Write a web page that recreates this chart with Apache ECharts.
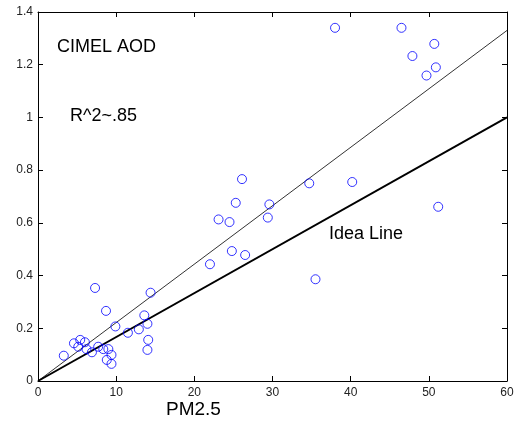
<!DOCTYPE html>
<html>
<head>
<meta charset="utf-8">
<script src="https://cdn.jsdelivr.net/npm/echarts@6/dist/echarts.min.js"></script>
<style>
  html, body { margin: 0; padding: 0; background: #fff; }
  #chart { width: 517px; height: 428px; }
</style>
</head>
<body>
<div id="chart"></div>
<script>
// PM2.5 values (x) and CIMEL AOD values (y)
const pm25 = [3.3, 4.6, 5.4, 6.0, 5.15, 6.2, 6.9, 7.7, 8.35, 9.0, 8.8, 9.4, 9.4,
  7.3, 14.4, 8.7, 13.6, 9.9, 14.0, 11.5, 12.9, 14.1, 14.0,
  22.0, 24.8, 26.5, 23.1, 24.5, 29.4, 25.3, 29.6, 26.1, 34.7, 40.2, 35.5, 51.2,
  38.0, 46.5, 50.7, 47.9, 50.9, 49.7]
const aod = [0.096, 0.143, 0.156, 0.147, 0.13, 0.121, 0.109, 0.13, 0.121, 0.121, 0.08, 0.099, 0.065,
  0.353, 0.335, 0.266, 0.249, 0.207, 0.217, 0.183, 0.196, 0.156, 0.118,
  0.443, 0.493, 0.478, 0.613, 0.603, 0.62, 0.676, 0.67, 0.766, 0.75, 0.755, 0.386, 0.661,
  1.34, 1.34, 1.279, 1.233, 1.19, 1.159]

const fitLine = [[0, 0], [60, 1.33]]
const idealLine = [[0, 0], [60, 1.0]]

const xTicks = { min: 0, max: 60, interval: 10 }
const yTicks = { min: 0, max: 1.4, interval: 0.2 }

const chart = echarts.init(document.getElementById('chart'))

const axisLine = { show: true, onZero: false, lineStyle: { color: '#000', width: 1 } }
const axisTick = { show: true, inside: true, length: 5, lineStyle: { color: '#000' } }
const labelStyle = { color: '#222', fontSize: 12, fontFamily: 'Liberation Sans, Arial, sans-serif' }

chart.setOption({
    animation: false,
    grid: {
        left: 38,
        top: 12,
        right: 10,
        bottom: 47
    },
    xAxis: [{
        type: 'value',
        min: xTicks.min,
        max: xTicks.max,
        interval: xTicks.interval,
        position: 'bottom',
        axisLine: axisLine,
        axisTick: axisTick,
        splitLine: { show: false },
        axisLabel: Object.assign({ margin: 6 }, labelStyle)
    }, {
        type: 'value',
        min: xTicks.min,
        max: xTicks.max,
        interval: xTicks.interval,
        position: 'top',
        axisLine: axisLine,
        axisTick: axisTick,
        splitLine: { show: false },
        axisLabel: { show: false }
    }],
    yAxis: [{
        type: 'value',
        min: yTicks.min,
        max: yTicks.max,
        interval: yTicks.interval,
        position: 'left',
        axisLine: axisLine,
        axisTick: axisTick,
        splitLine: { show: false },
        axisLabel: Object.assign({ margin: 5 }, labelStyle)
    }, {
        type: 'value',
        min: yTicks.min,
        max: yTicks.max,
        interval: yTicks.interval,
        position: 'right',
        axisLine: axisLine,
        axisTick: axisTick,
        splitLine: { show: false },
        axisLabel: { show: false }
    }],
    graphic: [{
        type: 'text',
        left: 57,
        top: 38,
        style: { text: 'CIMEL AOD', fontSize: 18, fill: '#000', fontFamily: 'Liberation Sans, Arial, sans-serif' }
    }, {
        type: 'text',
        left: 70,
        top: 107,
        style: { text: 'R^2~.85', fontSize: 18, fill: '#000', fontFamily: 'Liberation Sans, Arial, sans-serif' }
    }, {
        type: 'text',
        left: 329,
        top: 225,
        style: { text: 'Idea Line', fontSize: 18, fill: '#000', fontFamily: 'Liberation Sans, Arial, sans-serif' }
    }, {
        type: 'text',
        left: 166,
        top: 400,
        style: { text: 'PM2.5', fontSize: 19, fill: '#000', fontFamily: 'Liberation Sans, Arial, sans-serif' }
    }],
    series: [{
        name: 'fit',
        type: 'line',
        data: fitLine,
        showSymbol: false,
        lineStyle: { color: '#333', width: 1 },
        z: 2
    }, {
        name: 'ideal',
        type: 'line',
        data: idealLine,
        showSymbol: false,
        lineStyle: { color: '#000', width: 2 },
        z: 2
    }, {
        name: 'AOD',
        type: 'scatter',
        data: pm25.map((x, i) => [x, aod[i]]),
        symbol: 'circle',
        symbolSize: 9,
        itemStyle: { color: 'rgba(0,0,0,0)', borderColor: '#0000ff', borderWidth: 1 },
        z: 3
    }]
})
</script>
</body>
</html>
